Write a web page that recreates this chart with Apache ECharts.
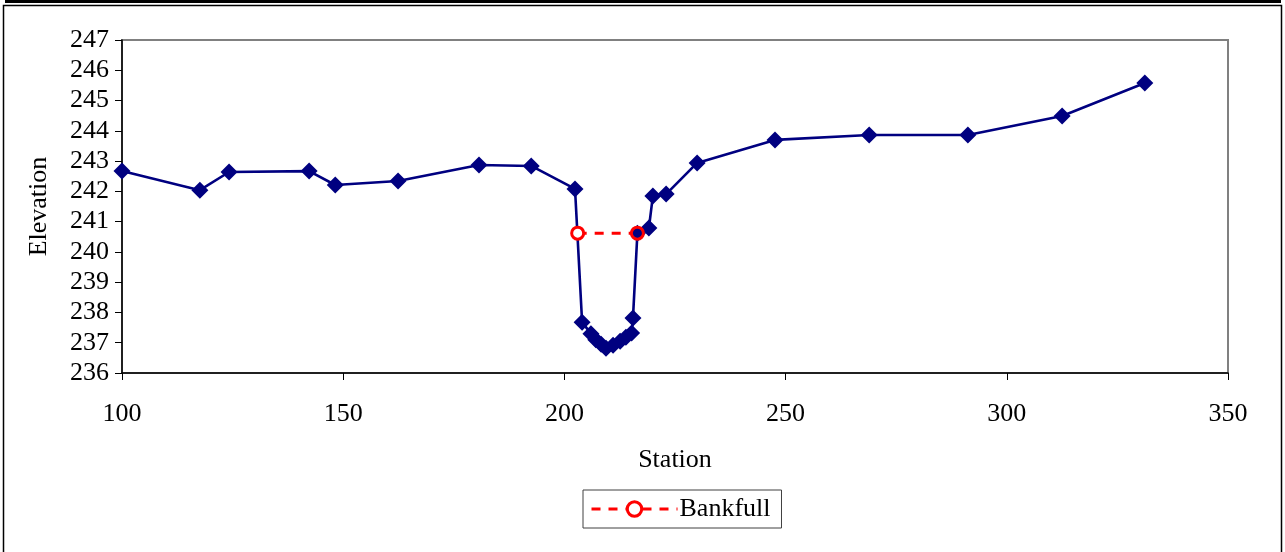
<!DOCTYPE html>
<html>
<head>
<meta charset="utf-8">
<style>
  html, body { margin: 0; padding: 0; background: #fff; }
  #chart { width: 1285px; height: 552px; }
</style>
<script src="https://cdn.jsdelivr.net/npm/echarts@6/dist/echarts.min.js"></script>
</head>
<body>
<div id="chart"></div>
<script>
// Cross-section survey: station (ft) vs. elevation (ft)
const station = [100, 117.6, 124.2, 142.3, 148.2, 162.4, 180.7, 192.5, 202.4, 204.0,
  206.0, 207.1, 208.3, 209.4, 211.0, 212.6, 213.9, 215.2, 215.5, 216.5,
  219.1, 220.0, 223.0, 230.0, 247.6, 268.9, 291.2, 312.5, 331.2];
const elevation = [242.67, 242.04, 242.64, 242.67, 242.21, 242.34, 242.87, 242.84, 242.08, 237.68,
  237.30, 237.10, 236.95, 236.82, 236.92, 237.05, 237.18, 237.32, 237.82, 240.62,
  240.79, 241.85, 241.91, 242.94, 243.70, 243.86, 243.86, 244.49, 245.58];

// Bankfull stage, left and right bank
const bankfullStation = [203.0, 216.5];
const bankfullElevation = [240.62, 240.62];

const xTicks = { min: 100, max: 350, step: 50 };
const yTicks = { min: 236, max: 247, step: 1 };

const FONT = "'Liberation Serif', 'Times New Roman', serif";
const NAVY = '#000080';
const RED = '#ff0000';

const profile = station.map((s, i) => [s, elevation[i]]);
const bankfull = bankfullStation.map((s, i) => ({
  value: [s, bankfullElevation[i]],
  // right bank sits on a surveyed point, so the circle shows the profile colour inside
  itemStyle: i === 1 ? { color: NAVY } : undefined
}));

const chart = echarts.init(document.getElementById('chart'), null, { renderer: 'canvas' });

chart.setOption({
  backgroundColor: '#fff',
  animation: false,
  grid: {
    left: 122, right: 57, top: 40, bottom: 179,
    show: true, borderColor: '#808080', borderWidth: 2, backgroundColor: 'transparent'
  },
  xAxis: {
    type: 'value',
    min: xTicks.min, max: xTicks.max, interval: xTicks.step,
    name: 'Station', nameLocation: 'middle', nameGap: 74,
    nameTextStyle: { fontFamily: FONT, fontSize: 26, color: '#000' },
    axisLine: { show: true, onZero: false, lineStyle: { color: '#000', width: 1.5 } },
    axisTick: { show: true, inside: false, length: 7, lineStyle: { color: '#000' } },
    axisLabel: { fontFamily: FONT, fontSize: 26, color: '#000', margin: 28, showMinLabel: true, showMaxLabel: true },
    splitLine: { show: false }
  },
  yAxis: {
    type: 'value',
    min: yTicks.min, max: yTicks.max, interval: yTicks.step,
    name: 'Elevation', nameLocation: 'middle', nameGap: 70, nameRotate: 90,
    nameTextStyle: { fontFamily: FONT, fontSize: 26, color: '#000' },
    axisLine: { show: true, onZero: false, lineStyle: { color: '#000', width: 1.5 } },
    axisTick: { show: true, inside: false, length: 7, lineStyle: { color: '#000' } },
    axisLabel: { fontFamily: FONT, fontSize: 26, color: '#000', margin: 13, showMinLabel: true, showMaxLabel: true },
    splitLine: { show: false }
  },
  legend: {
    data: ['Bankfull'],
    left: 583, top: 490,
    padding: [6, 11, 6, 7],
    borderColor: '#404040', borderWidth: 1,
    itemWidth: 86, itemHeight: 18, itemGap: 0,
    lineStyle: { color: RED, width: 3, type: [9, 8] },
    itemStyle: { color: '#fff', borderColor: RED, borderWidth: 3 },
    textStyle: { fontFamily: FONT, fontSize: 26, color: '#000', padding: [0, 0, 0, -3] }
  },
  graphic: [
    { type: 'rect', shape: { x: 3.5, y: 5.5, width: 1278, height: 560 }, style: { fill: 'none', stroke: '#000', lineWidth: 1.5 }, silent: true },
    { type: 'line', shape: { x1: 5, y1: 1.5, x2: 1281, y2: 1.5 }, style: { stroke: '#000', lineWidth: 3 }, silent: true }
  ],
  series: [
    {
      name: 'Profile',
      type: 'line',
      data: profile,
      symbol: 'diamond',
      symbolSize: 17,
      itemStyle: { color: NAVY },
      lineStyle: { color: NAVY, width: 2.6 },
      z: 2
    },
    {
      name: 'Bankfull',
      type: 'line',
      data: bankfull,
      symbol: 'circle',
      symbolSize: 12,
      showAllSymbol: true,
      itemStyle: { color: '#fff', borderColor: RED, borderWidth: 3 },
      lineStyle: { color: RED, width: 3, type: [9, 8] },
      z: 3
    }
  ]
});
</script>
</body>
</html>
